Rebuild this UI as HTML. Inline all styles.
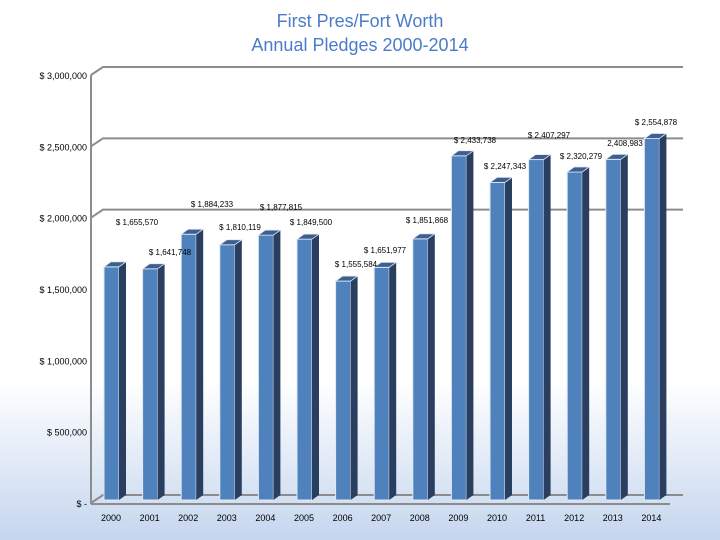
<!DOCTYPE html>
<html><head><meta charset="utf-8"><style>
body{margin:0;width:720px;height:540px;overflow:hidden;background:linear-gradient(#fff 0,#fff 380px,#c5d6ee 540px);font-family:"Liberation Sans",sans-serif}
svg{position:absolute;left:0;top:0}
</style></head><body>
<svg id="c" width="720" height="540">
<text x="360" y="27" text-anchor="middle" font-size="18" fill="#4a7cc9">First Pres/Fort Worth</text>
<text x="360" y="51" text-anchor="middle" font-size="18" fill="#4a7cc9">Annual Pledges 2000-2014</text>
</svg>
<script>
const years=["2000","2001","2002","2003","2004","2005","2006","2007","2008","2009","2010","2011","2012","2013","2014"];
const values=[1655570,1641748,1884233,1810119,1877815,1849500,1555584,1651977,1851868,2433738,2247343,2407297,2320279,2408983,2554878];
const ticks=[0,500000,1000000,1500000,2000000,2500000,3000000];
const tickLabels=["$ -","$ 500,000","$ 1,000,000","$ 1,500,000","$ 2,000,000","$ 2,500,000","$ 3,000,000"];
const gridTicks=[2000000,2500000,3000000];
const labelPos=[[137,222],[170,252],[212,204],[240,227],[281,207],[311,222],[356,264],[385,250],[427,220],[475,140],[505,166],[549,135],[581,156],[625,143],[656,122]];
const svg=document.getElementById('c');const NS='http://www.w3.org/2000/svg';
const y=v=>503-v/3000000*428;
const x=i=>111+i*38.6;
function mk(t,a,p){const e=document.createElementNS(NS,t);for(const k in a)e.setAttribute(k,a[k]);(p||svg).appendChild(e);return e;}
gridTicks.forEach(t=>{const g=mk('polyline',{points:`91,${y(t)} 103,${y(t)-8} 683,${y(t)-8}`,fill:'none',stroke:'#8c8c8c','stroke-width':2});

});
let f=mk('polyline',{points:`91,503 103,495 683,495`,fill:'none',stroke:'#8c8c8c','stroke-width':2});


f=mk('line',{x1:91,y1:504,x2:670,y2:504,stroke:'#8c8c8c','stroke-width':2});


f=mk('line',{x1:91,y1:75,x2:91,y2:504,stroke:'#8c8c8c','stroke-width':2});


ticks.forEach((t,i)=>{const e=mk('text',{x:87,y:y(t)+4,'text-anchor':'end','font-size':9,fill:'#000'});e.textContent=tickLabels[i];

});
values.forEach((v,i)=>{const cx=x(i),l=cx-7,w=15,d=7,top=y(v),bot=500;
const g=mk('g',{});


mk('rect',{x:l,y:top,width:w,height:bot-top,fill:'#4f81bd',stroke:'#dfe8f5','stroke-width':1},g);
mk('polygon',{points:`${l+w},${top} ${l+w+d},${top-5} ${l+w+d},${bot-5} ${l+w},${bot}`,fill:'#2a3f5f'},g);
mk('polygon',{points:`${l},${top} ${l+d},${top-5} ${l+w+d},${top-5} ${l+w},${top}`,fill:'#3d5f8f',stroke:'#dfe8f5','stroke-width':0.8},g);
const t=mk('text',{x:cx,y:521,'text-anchor':'middle','font-size':9,fill:'#000'});t.textContent=years[i];

});
values.forEach((v,i)=>{
const lb=mk('text',{x:labelPos[i][0],y:labelPos[i][1]+3,'text-anchor':'middle','font-size':8,fill:'#000'});
lb.textContent=(i==13?'':'$ ')+v.toLocaleString('en-US');

});
</script>
</body></html>
